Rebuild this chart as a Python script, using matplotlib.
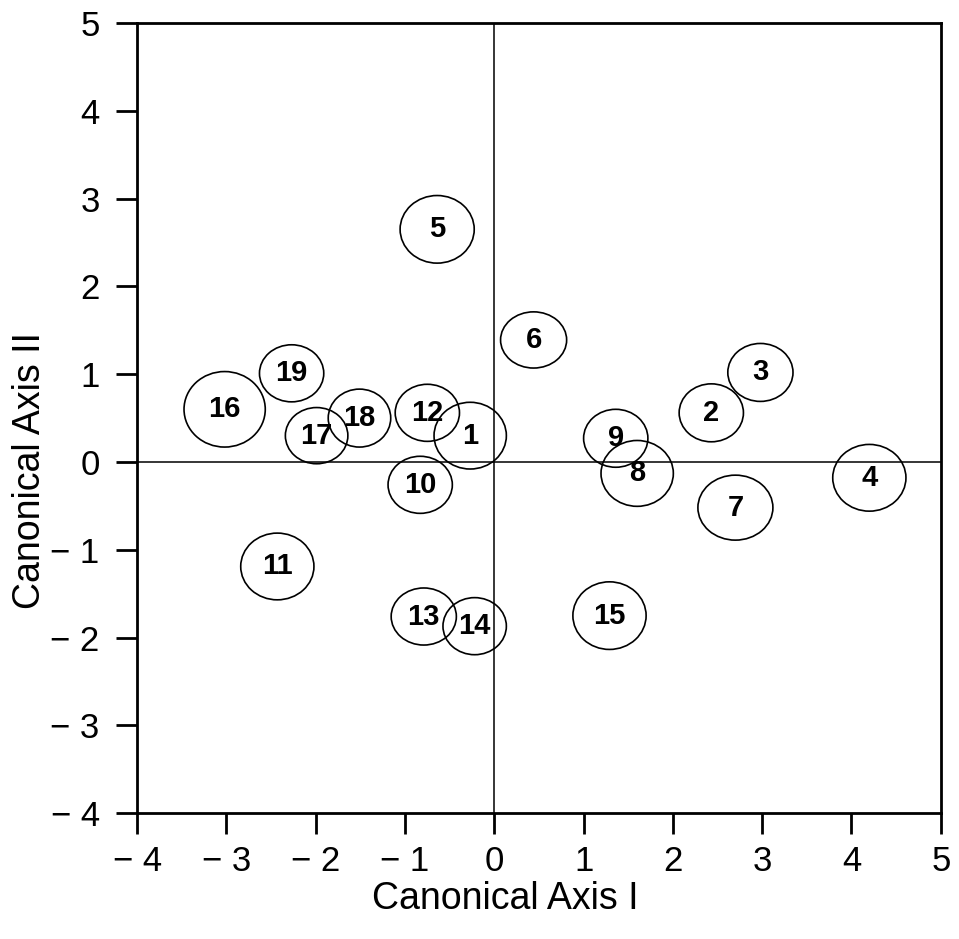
import matplotlib
matplotlib.use("Agg")
import matplotlib.pyplot as plt
from matplotlib.patches import Ellipse

plt.rcParams['font.family'] = ['Liberation Sans', 'DejaVu Sans']

labels = [str(i) for i in range(1, 20)]
axis1 = [-0.27, 2.43, 2.98, 4.20, -0.64, 0.44, 2.70, 1.60, 1.36, -0.83,
         -2.43, -0.75, -0.79, -0.22, 1.29, -3.02, -1.99, -1.51, -2.27]
axis2 = [0.30, 0.56, 1.02, -0.18, 2.65, 1.39, -0.52, -0.13, 0.27, -0.26,
         -1.19, 0.56, -1.76, -1.87, -1.75, 0.60, 0.30, 0.50, 1.01]
# circle widths / heights (data units)
circ_w = [0.81, 0.72, 0.73, 0.82, 0.83, 0.74, 0.84, 0.81, 0.72, 0.72,
          0.82, 0.72, 0.73, 0.71, 0.82, 0.91, 0.70, 0.70, 0.72]
circ_h = [0.76, 0.66, 0.66, 0.76, 0.77, 0.64, 0.74, 0.75, 0.66, 0.65,
          0.76, 0.65, 0.65, 0.65, 0.77, 0.86, 0.64, 0.66, 0.65]

xticks = [-4, -3, -2, -1, 0, 1, 2, 3, 4, 5]
yticks = [-4, -3, -2, -1, 0, 1, 2, 3, 4, 5]

def fmt(v):
    return ("\u2212 " + str(-v)) if v < 0 else str(v)

fig = plt.figure(figsize=(9.59, 9.39), dpi=100)
ax = fig.add_axes([0.143, 0.134, 0.838, 0.8415])
ax.set_xlim(-4, 5)
ax.set_ylim(-4, 5)

ax.axhline(0, color='black', lw=1.1, zorder=1)
ax.axvline(0, color='black', lw=1.1, zorder=1)

for x, y, w, h, lab in zip(axis1, axis2, circ_w, circ_h, labels):
    ax.add_patch(Ellipse((x, y), w, h, fill=False, edgecolor='black', lw=1.2, zorder=2))
    ax.text(x, y, lab, ha='center', va='center', fontsize=21, fontweight='bold', zorder=3)

ax.set_xticks(xticks)
ax.set_xticklabels([fmt(v) for v in xticks])
ax.set_yticks(yticks)
ax.set_yticklabels([fmt(v) for v in yticks])
ax.tick_params(axis='both', direction='out', length=15, width=2, labelsize=25, colors='black')
ax.tick_params(axis='x', pad=8)
ax.tick_params(axis='y', pad=12)
for s in ax.spines.values():
    s.set_linewidth(2)

ax.set_xlabel("Canonical Axis I", fontsize=27)
ax.set_ylabel("Canonical Axis II", fontsize=27)
ax.xaxis.set_label_coords(0.458, -0.108)
ax.xaxis.label.set_verticalalignment('center')
ax.yaxis.set_label_coords(-0.133, 0.434)
ax.yaxis.label.set_verticalalignment('center')

fig.savefig("out.png", dpi=100)
